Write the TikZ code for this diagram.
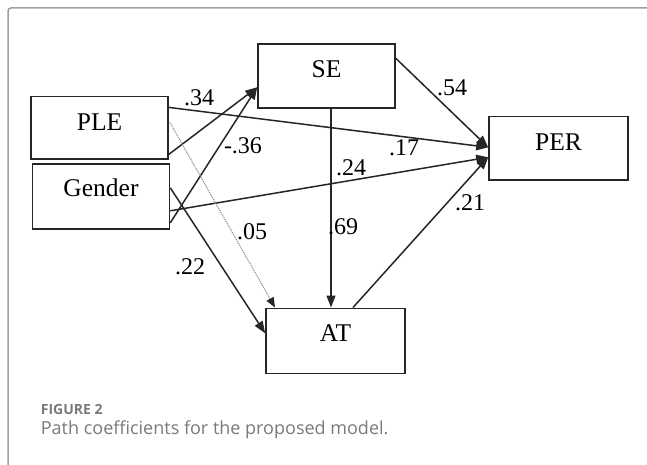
\documentclass[tikz,border=0pt]{standalone}
\usepackage{fontspec}
\setmainfont{Liberation Serif}
\newfontfamily\capfont{Open Sans}
\usetikzlibrary{arrows.meta,calc}
\definecolor{framegray}{HTML}{A0A0A0}
\definecolor{capgray}{HTML}{7A7A7A}
\definecolor{dotgray}{HTML}{8C8C8C}
\begin{document}
\begin{tikzpicture}[x=1pt,y=-1pt,
  box/.style={draw=black!85, line width=1.6pt, minimum width=137pt, minimum height=64pt,
    inner sep=0pt, font=\fontsize{25.5}{25.5}\selectfont},
  coef/.style={font=\fontsize{24}{24}\selectfont, inner sep=0pt},
  arr/.style={draw=black!85, line width=1.5pt, -{Triangle[length=12pt,width=9pt]}},
  dotarr/.style={draw=dotgray, line width=1.1pt, densely dotted, -{Triangle[length=10pt,width=8pt,color=black!85]}},
  caphead/.style={font=\capfont\bfseries\fontsize{14}{14}\selectfont, text=capgray, inner sep=0pt, anchor=base west},
  captext/.style={font=\capfont\fontsize{18}{18}\selectfont, text=capgray, inner sep=0pt, anchor=base west}
]
\useasboundingbox (0,0) rectangle (647,465);
\fill[white] (0,0) rectangle (647,465);
% frame
\draw[framegray, line width=1.5pt, rounded corners=3pt] (8,470) -- (8,8) -- (652,8);

% boxes
\node[box, text height=13.6pt, text depth=10.4pt] (SE) at (326.5,76.3) {SE};
\node[box, minimum height=62.5pt, text height=14.4pt, text depth=9.6pt] (PLE) at (99.5,127.9) {PLE};
\node[box, minimum height=65pt, text height=12.4pt, text depth=11.6pt] (G) at (101,196.3) {Gender};
\node[box, minimum width=139pt, minimum height=63.5pt, text height=13.8pt, text depth=10.2pt] (PER) at (558.5,148.3) {PER};
\node[box, minimum width=139pt, minimum height=65pt, text height=12.6pt, text depth=11.4pt] (AT) at (335.5,340.8) {AT};

% connector end points
\coordinate (SEin) at ($(SE.west)+(0,11)$);
\coordinate (PERin1) at ($(PER.west)+(0,-1)$);
\coordinate (PERin2) at ($(PER.west)+(0,9)$);

% connectors
\draw[arr] ($(PLE.east)+(0,26.5)$) -- (SEin);
\draw[arr] ($(G.east)+(0,26.5)$) -- (SEin);
\draw[arr] ($(PLE.east)+(0,-20.5)$) -- (PERin1);
\draw[arr] ($(SE.east)+(0,-18)$) -- (PERin1);
\draw[arr] ($(G.east)+(0,14.5)$) -- (PERin2);
\draw[arr] ($(AT.north)+(17.5,0)$) -- (PERin2);
\draw[arr] ($(SE.south)+(4.5,0)$) -- ($(AT.north)+(-4.5,0)$);
\draw[dotarr] ($(PLE.east)+(1,-5.5)$) -- ($(AT.north)+(-60.5,0)$);
\draw[arr] ($(G.east)+(0,-8.5)$) -- ($(AT.west)+(0,-7.5)$);

% coefficients
\node[coef] (c34) at (199,98) {.34};
\node[coef] (c36) at (243,146) {-.36};
\node[coef] (c54) at (452,88) {.54};
\node[coef] (c17) at (404,148) {.17};
\node[coef] (c24) at (351,168) {.24};
\node[coef] (c05) at (252,232) {.05};
\node[coef] (c69) at (343,227) {.69};
\node[coef] (c22) at (190,267) {.22};
\node[coef] (c21) at (470,203) {.21};

% caption
\node[caphead] (fig) at (40.7,414.3) {FIGURE 2};
\node[captext] (cap) at (40.7,434) {Path coefficients for the proposed model.};
\end{tikzpicture}
\end{document}
